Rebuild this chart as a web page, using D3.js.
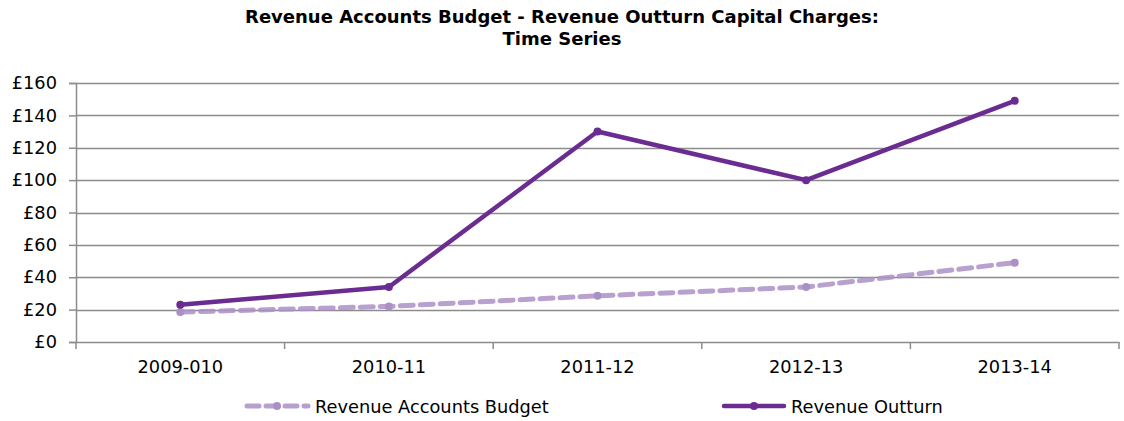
<!DOCTYPE html>
<html><head><meta charset="utf-8">
<script src="https://cdn.jsdelivr.net/npm/d3@7"></script>
<style>body{margin:0;background:#fff}svg{display:block;font-family:"DejaVu Sans",Verdana,sans-serif}</style>
</head><body><div id="c"></div>
<script>
const categories = ["2009-010","2010-11","2011-12","2012-13","2013-14"];
const budget = [18.5, 22, 28.5, 34, 49];
const outturn = [23, 34, 130, 100, 149];
const yTicks = [0,20,40,60,80,100,120,140,160];
const seriesNames = ["Revenue Accounts Budget","Revenue Outturn"];

const W=1124,H=421,L=76,R=1119,T=83,B=342,FS=17.8;
const svg=d3.select("#c").append("svg").attr("width",W).attr("height",H);
const x=d3.scaleBand().domain(categories).range([L,R]);
const y=d3.scaleLinear().domain([0,160]).range([B,T]);

svg.append("text").attr("x",562).attr("y",23).attr("text-anchor","middle").attr("font-weight","bold").attr("font-size",18).attr("fill","#000").text("Revenue Accounts Budget - Revenue Outturn Capital Charges:");
svg.append("text").attr("x",562).attr("y",45).attr("text-anchor","middle").attr("font-weight","bold").attr("font-size",18).attr("fill","#000").text("Time Series");

const grid="#8c8c8c";
svg.append("g").selectAll("line").data(yTicks.filter(d=>d>0)).join("line")
 .attr("x1",L).attr("x2",R).attr("y1",d=>Math.round(y(d))+0.5).attr("y2",d=>Math.round(y(d))+0.5)
 .attr("stroke",grid).attr("stroke-width",1.5);

const ya=svg.append("g").attr("transform",`translate(${L},0)`)
 .call(d3.axisLeft(y).tickValues(yTicks).tickSize(7).tickFormat(d=>"£"+d));
ya.select(".domain").attr("stroke",grid).attr("stroke-width",1.5);
ya.selectAll(".tick line").attr("stroke",grid).attr("stroke-width",1.5);
ya.selectAll(".tick text").attr("font-size",FS).attr("fill","#000").attr("font-family","DejaVu Sans").attr("x",-19);

const xa=svg.append("g").attr("transform",`translate(0,${B})`)
 .call(d3.axisBottom(x).tickSize(0).tickSizeOuter(0));
xa.select(".domain").attr("stroke",grid).attr("stroke-width",1.5);
xa.selectAll(".tick text").attr("font-size",FS).attr("fill","#000").attr("font-family","DejaVu Sans").attr("y",31).attr("dy",0);
const bounds=categories.map(c=>x(c)).concat([R]);
svg.append("g").selectAll("line").data(bounds).join("line")
 .attr("x1",d=>d).attr("x2",d=>d).attr("y1",B).attr("y2",B+7).attr("stroke",grid).attr("stroke-width",1.5);

const cx=c=>x(c)+x.bandwidth()/2;
const line=d3.line().x((d,i)=>cx(categories[i])).y(d=>y(d));
const bColor="#ab90c6", oColor="#6a2c91";

svg.append("path").datum(budget).attr("d",line).attr("fill","none").attr("stroke",bColor)
 .attr("stroke-width",5).attr("stroke-dasharray","13,7").attr("stroke-linecap","round").attr("opacity",0.85);
svg.append("g").selectAll("circle").data(budget).join("circle")
 .attr("cx",(d,i)=>cx(categories[i])).attr("cy",d=>y(d)).attr("r",4).attr("fill",bColor);

svg.append("path").datum(outturn).attr("d",line).attr("fill","none").attr("stroke",oColor)
 .attr("stroke-width",4.5).attr("stroke-linejoin","round");
svg.append("g").selectAll("circle").data(outturn).join("circle")
 .attr("cx",(d,i)=>cx(categories[i])).attr("cy",d=>y(d)).attr("r",4).attr("fill",oColor);

// legend
const lg=svg.append("g");
lg.append("line").attr("x1",247).attr("x2",308).attr("y1",406).attr("y2",406).attr("stroke",bColor).attr("stroke-width",5).attr("stroke-dasharray","12,7").attr("stroke-linecap","round").attr("opacity",0.85);
lg.append("circle").attr("cx",277).attr("cy",406).attr("r",4).attr("fill",bColor);
lg.append("text").attr("x",315).attr("y",412.5).attr("font-size",FS).attr("fill","#000").text(seriesNames[0]);
lg.append("line").attr("x1",724).attr("x2",784).attr("y1",406).attr("y2",406).attr("stroke",oColor).attr("stroke-width",4.5).attr("stroke-linecap","round");
lg.append("circle").attr("cx",754).attr("cy",406).attr("r",4).attr("fill",oColor);
lg.append("text").attr("x",791).attr("y",412.5).attr("font-size",FS).attr("fill","#000").text(seriesNames[1]);
</script></body></html>
